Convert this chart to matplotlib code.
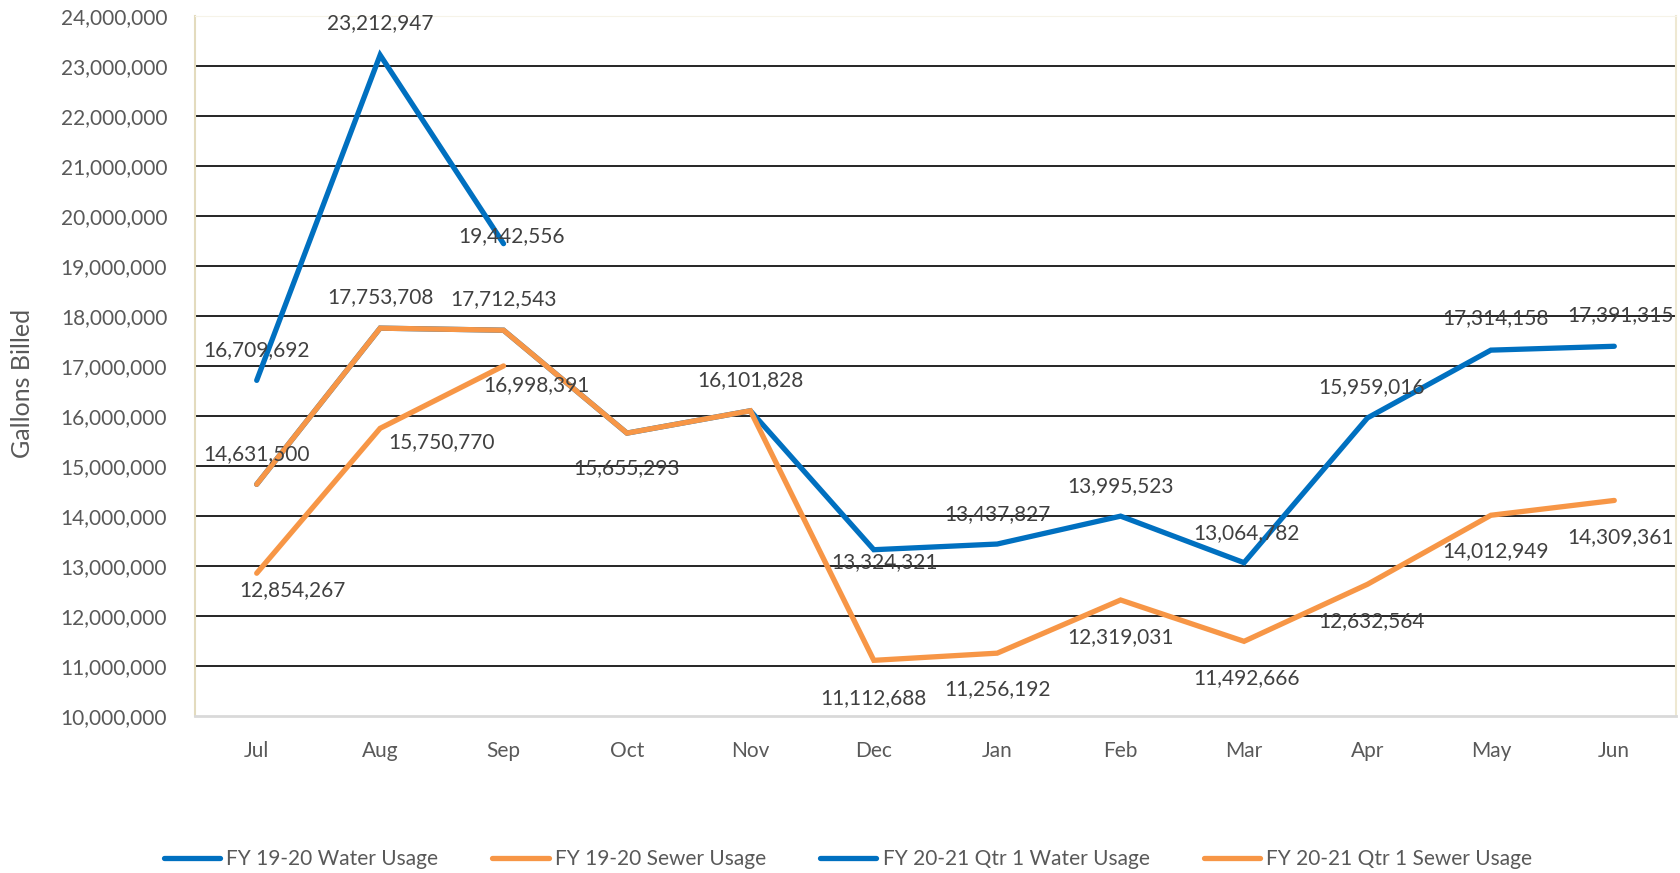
import matplotlib
matplotlib.use('Agg')
import matplotlib.pyplot as plt
from matplotlib.ticker import FuncFormatter
from matplotlib.lines import Line2D

plt.rcParams['font.family'] = ['Lato', 'DejaVu Sans']

months = ['Jul', 'Aug', 'Sep', 'Oct', 'Nov', 'Dec', 'Jan', 'Feb', 'Mar', 'Apr', 'May', 'Jun']

water_1920 = [14631500, 17753708, 17712543, 15655293, 16101828, 13324321,
              13437827, 13995523, 13064782, 15959016, 17314158, 17391315]
sewer_1920 = [14631500, 17753708, 17712543, 15655293, 16101828, 11112688,
              11256192, 12319031, 11492666, 12632564, 14012949, 14309361]
water_2021 = [16709692, 23212947, 19442556]
sewer_2021 = [12854267, 15750770, 16998391]

names = ['FY 19-20 Water Usage', 'FY 19-20 Sewer Usage',
         'FY 20-21 Qtr 1 Water Usage', 'FY 20-21 Qtr 1 Sewer Usage']

# label offsets in pixels (dx, dy), None = no label
off_w1920 = [(0, 30), (0, 31), (0, 31), (0, -35), (0, 31), (11, -12),
             (0, 30), (0, 30), (2, 30), (4, 31), (5, 32), (6, 31)]
off_s1920 = [None] * 5 + [(0, -38), (0, -36), (0, -37), (2, -37), (4, -37), (5, -36), (6, -37)]
off_w2021 = [(0, 30), (0, 32), (8, 8)]
off_s2021 = [(36, -17), (61, -14), (33, -19)]

blue = '#0070C0'
orange = '#F79646'

fig = plt.figure(figsize=(16.81, 8.73), dpi=100)
ax = fig.add_axes([195 / 1681, 1 - 716 / 873, (1676 - 195) / 1681, (716 - 15.7) / 873])

x = list(range(len(months)))
series = [(water_1920, blue, off_w1920), (sewer_1920, orange, off_s1920),
          (water_2021, blue, off_w2021), (sewer_2021, orange, off_s2021)]
for vals, col, offs in series:
    xs = x[:len(vals)]
    ax.plot(xs, vals, color=col, lw=3.8, solid_capstyle='round', solid_joinstyle='miter', zorder=3)
    for xi, v, o in zip(xs, vals, offs):
        if o is None:
            continue
        ax.annotate(f'{v:,}', (xi, v), xytext=o, textcoords='offset pixels',
                    ha='center', va='center', fontsize=15, color='#404040', zorder=4)

ax.set_xlim(-0.5, 11.5)
ax.set_ylim(10000000, 24000000)
ax.set_yticks(range(10000000, 24000001, 1000000))
for t in range(11000000, 24000000, 1000000):
    ax.axhline(t, color='black', lw=1.2, zorder=1)
ax.yaxis.set_major_formatter(FuncFormatter(lambda v, p: f'{int(v):,}'))
ax.set_xticks(x)
ax.set_xticklabels(months)
ax.tick_params(axis='both', length=0, labelsize=15, labelcolor='#595959')
ax.tick_params(axis='y', pad=20)
ax.tick_params(axis='x', pad=18)

ax.spines['left'].set_color('#E3DBBE')
ax.spines['left'].set_linewidth(1.5)
ax.spines['top'].set_color('#F6F3E8')
ax.spines['right'].set_color('#EEE8D2')
ax.spines['right'].set_linewidth(1.5)
ax.spines['bottom'].set_color('#D9D9D9')
ax.spines['bottom'].set_linewidth(2)

fig.text(23 / 1681, 1 - 383 / 873, 'Gallons Billed', rotation=90, ha='center', va='center',
         fontsize=18, color='#595959')

handles = [Line2D([], [], color=c, lw=3.8, solid_capstyle='round') for c in [blue, orange, blue, orange]]
fig.legend(handles, names, loc='center', bbox_to_anchor=(848 / 1681, 14 / 873), ncol=4,
           frameon=False, fontsize=15, labelcolor='#595959', handlelength=2.7,
           handletextpad=0.3, columnspacing=2.6)

fig.savefig('out.png', dpi=100)
